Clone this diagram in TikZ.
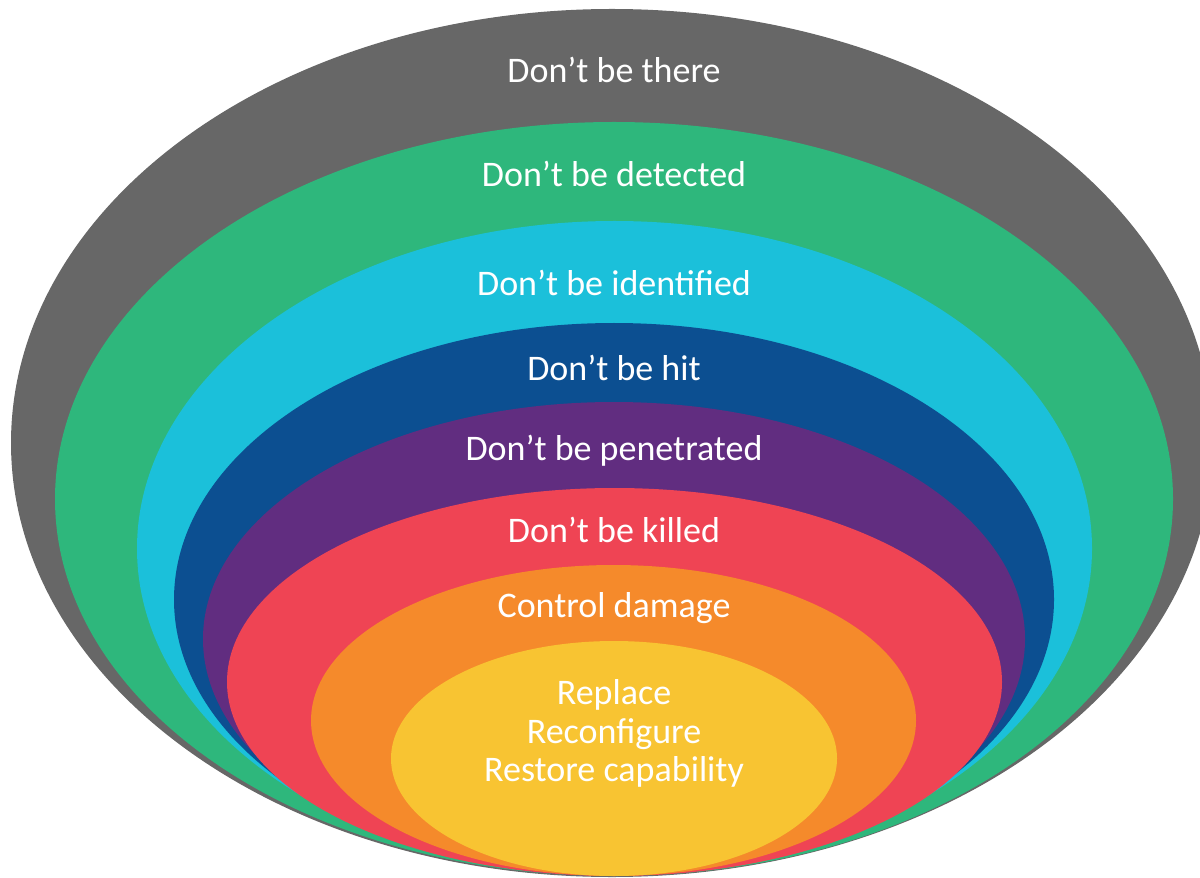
\documentclass[tikz,border=0pt]{standalone}
\usepackage{fontspec}
\setmainfont{Carlito}
\definecolor{ringgray}{HTML}{676767}
\definecolor{ringgreen}{HTML}{2EB77C}
\definecolor{ringcyan}{HTML}{1BC0DA}
\definecolor{ringblue}{HTML}{0C4F91}
\definecolor{ringpurple}{HTML}{612D80}
\definecolor{ringred}{HTML}{EF4454}
\definecolor{ringorange}{HTML}{F58A2B}
\definecolor{ringyellow}{HTML}{F8C432}
\tikzset{
  label/.style={text=white, anchor=base, inner sep=0pt, font=\fontsize{25.6}{27.6}\selectfont, align=center}
}
\begin{document}
\begin{tikzpicture}[x=0.025cm, y=-0.025cm]
            \clip (0,0) rectangle (1200,878);
            % Anelli
            \fill[ringgray] (612,443) ellipse [x radius=601, y radius=434];
            \fill[ringgreen] (614,499) ellipse [x radius=559, y radius=377];
            \fill[ringcyan] (614.5,548.5) ellipse [x radius=477.5, y radius=327.5];
            \fill[ringblue] (614,599.5) ellipse [x radius=440, y radius=276.5];
            \fill[ringpurple] (614,639) ellipse [x radius=411, y radius=237];
            \fill[ringred] (614.5,682) ellipse [x radius=387.5, y radius=194];
            \fill[ringorange] (613.5,720.5) ellipse [x radius=302.5, y radius=155.5];
            \fill[ringyellow] (614,758.5) ellipse [x radius=223, y radius=117.5];

            % Testi
            \node[label] (there) at (614,83) {Don’t be there};
            \node[label] (detected) at (614,187) {Don’t be detected};
            \node[label] (identified) at (614,296) {Don’t be identified};
            \node[label] (hit) at (614,380) {Don’t be hit};
            \node[label] (penetrated) at (614,460) {Don’t be penetrated};
            \node[label] (killed) at (614,542) {Don’t be killed};
            \node[label] (damage) at (614,617) {Control damage};
            \node[label, anchor=north] (restore) at (614,679) {Replace\\Reconfigure\\Restore capability};
        \end{tikzpicture}
\end{document}
